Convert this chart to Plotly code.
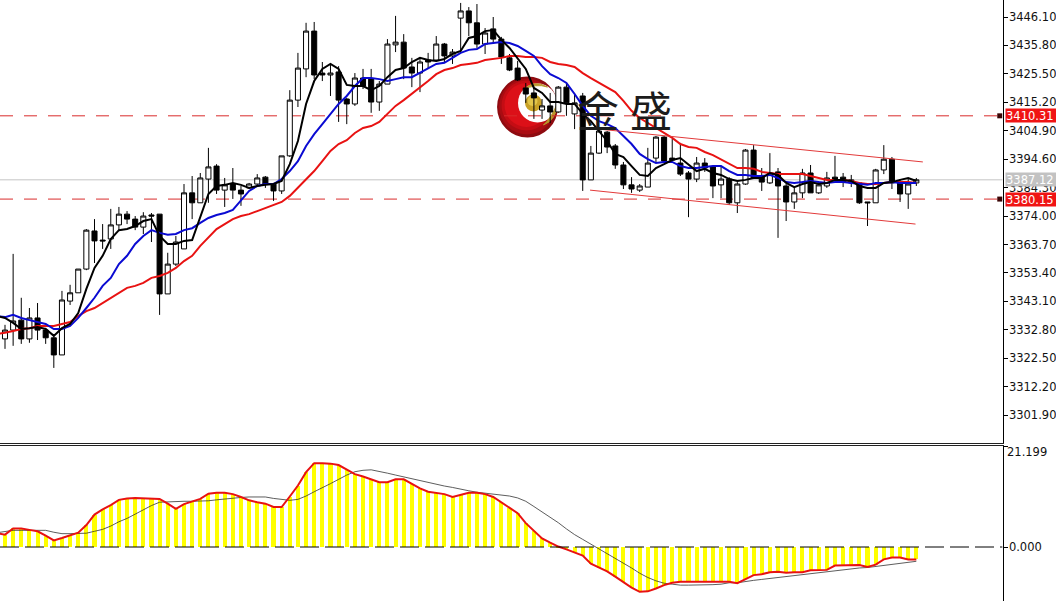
import plotly.graph_objects as go

# ---------- data ----------
opens = [3329.5,3332.7,3336.3,3329.5,3337.1,3332.7,3329.9,3323.7,3343.2,3346.2,
3354.8,3368.6,3365.3,3365.7,3370.8,3374.7,3372.9,3370.0,3374.4,3374.7,
3345.8,3356.6,3362.1,3382.4,3378.8,3387.4,3392.1,3383.4,3385.6,3383.4,
3384.2,3385.6,3388.1,3385.6,3383.1,3395.8,3416.0,3427.3,3441.0,3425.8,
3425.1,3426.2,3416.4,3414.6,3424.0,3423.6,3415.3,3421.8,3436.0,3437.0,
3428.0,3425.8,3430.5,3430.5,3436.3,3432.0,3445.7,3448.3,3444.0,3436.3,
3441.8,3438.1,3431.3,3427.6,3420.4,3418.6,3412.4,3413.9,3411.7,3420.7,
3411.0,3417.5,3387.1,3396.8,3404.4,3399.4,3392.5,3385.3,3383.4,3384.5,
3395.0,3402.6,3395.0,3393.2,3389.6,3387.4,3393.2,3391.8,3385.3,3387.4,
3378.8,3385.6,3397.9,3388.5,3386.0,3390.0,3384.9,3379.1,3382.4,3389.6,
3382.4,3384.9,3388.1,3388.1,3386.0,3386.0,3379.1,3378.8,3390.7,3394.6,
3386.0,3382.0,3386.0]
highs = [3334.6,3360.3,3344.4,3340.7,3342.5,3333.5,3331.3,3346.9,3349.1,3354.8,
3369.3,3372.9,3371.1,3376.6,3377.3,3375.8,3374.0,3375.4,3375.1,3374.7,
3360.7,3366.8,3385.6,3388.5,3389.6,3398.7,3392.8,3387.8,3391.4,3384.9,
3386.0,3389.2,3388.5,3386.0,3395.8,3419.6,3433.1,3444.0,3444.3,3429.8,
3428.7,3428.3,3416.8,3425.8,3427.3,3427.3,3422.9,3438.1,3446.5,3439.9,
3431.3,3431.3,3433.1,3439.2,3436.7,3434.5,3451.2,3449.7,3450.8,3442.1,
3446.1,3438.9,3432.7,3430.2,3422.2,3420.4,3416.4,3418.6,3421.1,3422.5,
3418.6,3418.6,3399.4,3405.5,3404.8,3400.1,3393.6,3388.1,3385.6,3398.7,
3403.0,3403.0,3401.9,3400.5,3390.3,3395.4,3395.0,3392.1,3391.8,3388.1,
3386.3,3398.3,3399.7,3391.4,3396.8,3391.4,3385.6,3384.9,3391.1,3392.5,
3386.7,3390.0,3395.8,3389.6,3388.9,3386.3,3379.1,3391.1,3399.7,3395.4,
3387.4,3387.4,3387.8]
lows = [3325.9,3327.0,3327.7,3328.1,3329.1,3327.7,3319.0,3323.7,3341.8,3346.2,
3354.4,3357.0,3362.1,3362.1,3368.6,3371.1,3368.9,3367.5,3364.6,3338.2,
3345.8,3355.9,3362.1,3372.9,3378.8,3378.8,3382.0,3377.3,3380.2,3377.7,
3383.8,3384.5,3384.2,3379.5,3382.0,3395.4,3413.5,3424.3,3423.6,3422.9,
3417.5,3408.1,3407.3,3413.9,3420.0,3411.4,3412.1,3421.8,3433.4,3423.6,
3420.7,3418.9,3427.3,3430.2,3429.5,3429.1,3433.8,3439.2,3434.9,3432.7,
3436.7,3429.1,3426.5,3422.9,3415.0,3409.2,3409.2,3407.7,3411.4,3410.3,
3405.5,3383.1,3387.1,3396.5,3396.8,3391.1,3383.8,3382.4,3382.7,3384.5,
3393.2,3393.2,3393.9,3388.5,3373.6,3386.3,3390.0,3380.5,3380.5,3378.0,
3375.1,3385.3,3387.4,3383.1,3385.6,3366.1,3372.2,3376.6,3380.5,3382.4,
3382.0,3384.2,3386.7,3384.5,3384.5,3378.4,3370.4,3378.8,3389.2,3383.8,
3379.1,3376.6,3384.9]
closes = [3332.7,3336.0,3329.5,3337.1,3332.7,3329.9,3323.7,3343.6,3346.2,3354.8,
3368.9,3365.0,3365.0,3370.8,3374.7,3372.9,3370.0,3374.0,3374.0,3345.8,
3356.6,3364.6,3382.4,3378.8,3387.8,3391.8,3383.4,3385.3,3383.4,3382.0,
3385.6,3387.8,3385.6,3383.1,3395.8,3416.0,3427.6,3441.0,3425.1,3425.1,
3425.8,3416.0,3414.6,3424.0,3421.1,3415.3,3421.8,3436.3,3437.0,3427.6,
3425.8,3429.8,3429.8,3436.3,3432.0,3433.4,3448.3,3444.0,3436.3,3440.3,
3438.1,3431.6,3426.9,3423.3,3418.2,3416.8,3413.9,3411.7,3420.7,3415.0,
3415.0,3387.1,3396.8,3404.8,3399.0,3392.5,3385.3,3383.8,3384.9,3393.2,
3402.6,3393.9,3394.3,3389.2,3387.4,3393.2,3391.4,3384.9,3387.4,3378.8,
3385.6,3397.9,3387.8,3386.3,3389.6,3384.9,3379.1,3382.4,3389.6,3382.4,
3385.3,3387.8,3387.4,3386.3,3387.1,3378.8,3378.8,3390.7,3394.6,3386.0,
3382.0,3385.6,3387.12]

# moving averages; each series starts one bar before the first visible candle
ma_black = [3337.8,
3337.1,3335.3,3333.1,3333.4,3333.8,3333.1,3330.6,3333.4,3334.9,3338.9,
3347.6,3355.2,3359.6,3365.7,3368.9,3369.3,3370.4,3372.2,3372.9,3366.8,
3363.9,3363.9,3365.0,3365.3,3373.3,3382.0,3384.9,3385.3,3386.0,3385.3,
3384.2,3384.9,3385.3,3385.6,3386.7,3392.8,3401.2,3414.6,3422.9,3427.3,
3429.1,3427.3,3421.5,3421.1,3421.1,3419.6,3421.1,3424.3,3426.9,3427.6,
3429.8,3431.3,3430.5,3430.2,3430.9,3432.7,3433.8,3438.5,3439.2,3441.0,
3441.4,3437.8,3434.9,3431.3,3427.3,3420.4,3418.6,3415.3,3415.3,3414.6,
3414.6,3411.0,3408.4,3404.8,3401.2,3396.5,3395.4,3392.1,3388.9,3388.5,
3391.4,3392.8,3394.3,3395.0,3392.8,3390.3,3391.1,3389.6,3388.9,3387.4,
3386.7,3387.1,3387.8,3387.8,3389.6,3388.9,3386.0,3384.5,3385.6,3386.3,
3385.6,3386.0,3387.1,3387.1,3386.7,3384.9,3384.2,3384.2,3386.0,3386.3,
3387.1,3387.8,3386.7]
ma_blue = [3337.8,
3337.4,3338.2,3337.1,3336.3,3335.6,3334.9,3333.1,3333.1,3334.2,3337.1,
3340.7,3344.4,3348.7,3351.6,3356.6,3359.6,3363.9,3366.8,3368.9,3367.9,
3367.2,3367.5,3368.9,3369.6,3371.5,3373.3,3374.4,3375.1,3376.2,3379.5,
3383.1,3384.9,3385.6,3385.6,3387.4,3390.3,3393.9,3399.4,3403.7,3407.3,
3411.0,3414.6,3417.5,3421.1,3424.0,3424.0,3423.6,3422.9,3423.6,3424.3,
3424.3,3425.8,3427.3,3429.1,3429.5,3431.3,3433.1,3434.2,3434.5,3436.3,
3436.7,3437.0,3436.7,3435.6,3433.8,3432.0,3428.3,3425.4,3424.0,3422.2,
3418.2,3413.9,3410.3,3408.4,3407.3,3405.9,3403.0,3400.1,3396.5,3394.6,
3393.2,3393.6,3393.6,3392.1,3391.4,3391.4,3391.8,3392.1,3392.1,3390.3,
3388.9,3388.9,3388.5,3388.5,3388.9,3387.8,3386.3,3386.0,3386.3,3386.7,
3386.3,3386.0,3386.3,3386.3,3386.0,3385.6,3385.3,3386.0,3386.0,3386.3,
3386.0,3386.0,3386.0]
ma_red = [3331.3,
3331.7,3332.4,3333.1,3333.4,3334.2,3334.2,3334.2,3334.9,3335.6,3337.8,
3339.6,3340.7,3342.5,3344.4,3346.2,3348.0,3348.7,3349.8,3351.6,3352.3,
3353.4,3355.2,3357.7,3359.6,3363.2,3366.1,3369.3,3371.1,3372.9,3374.0,
3374.7,3375.8,3376.9,3378.0,3379.1,3381.3,3384.2,3387.4,3390.3,3393.9,
3397.6,3400.1,3401.5,3404.1,3405.9,3406.6,3408.1,3411.0,3413.9,3416.0,
3418.2,3420.4,3422.9,3425.4,3426.9,3427.6,3428.7,3429.1,3429.5,3430.5,
3430.9,3431.3,3432.0,3432.0,3431.6,3431.6,3431.3,3429.8,3429.1,3428.7,
3428.0,3425.8,3424.0,3422.2,3420.4,3418.9,3415.7,3412.1,3409.5,3407.7,
3405.9,3404.1,3402.3,3400.1,3399.0,3398.7,3397.2,3396.1,3394.6,3393.2,
3391.4,3391.4,3391.1,3390.0,3389.6,3389.2,3389.2,3389.2,3389.2,3388.5,
3387.8,3387.1,3387.1,3387.1,3386.7,3386.0,3385.6,3385.6,3386.0,3386.3,
3386.3,3386.3,3386.0]

# oscillator panel, same one-bar lead
osc_hist = [2.9,
2.6,3.9,3.9,3.6,3.3,2.4,1.4,1.9,2.4,3.0,
4.6,6.8,7.9,8.8,9.9,10.2,10.3,10.2,10.2,10.1,
9.1,8.0,9.0,9.6,10.1,11.2,11.4,11.4,11.1,10.5,
9.8,9.4,9.1,8.4,8.4,10.6,12.9,15.7,17.6,17.6,
17.5,17.2,16.2,15.3,14.8,14.2,13.6,13.6,14.2,14.2,
13.2,12.3,11.6,11.4,11.1,10.5,10.9,11.4,11.4,11.1,
10.5,9.4,8.2,7.1,5.0,3.3,1.8,0.9,0.1,-0.5,
-1.1,-1.8,-3.5,-4.3,-5.1,-6.2,-7.4,-8.5,-9.4,-9.3,
-8.7,-8.0,-7.5,-7.3,-7.3,-7.3,-7.3,-7.3,-7.3,-7.3,
-7.6,-6.8,-5.9,-5.7,-5.3,-5.2,-5.4,-5.3,-5.3,-4.9,
-4.8,-4.8,-3.9,-3.9,-3.8,-3.8,-4.2,-3.7,-2.6,-2.2,
-2.2,-2.6,-2.6]
osc_signal = [3.0,
3.2,3.5,3.5,3.5,3.6,3.5,3.1,2.8,2.8,2.9,
2.9,3.3,3.7,4.4,5.3,6.0,6.9,7.9,8.7,9.4,
9.5,9.6,9.6,9.6,9.6,9.7,9.9,10.1,10.3,10.4,
10.5,10.5,10.5,10.2,10.0,9.8,10.0,10.7,11.6,12.4,
13.3,14.2,15.1,15.8,16.1,16.2,15.9,15.5,15.1,14.7,
14.3,13.9,13.5,13.2,12.8,12.5,12.1,11.8,11.5,11.3,
11.1,10.9,10.7,10.3,9.6,8.5,7.4,6.3,5.1,3.8,
2.6,1.6,0.6,-0.4,-1.3,-2.3,-3.3,-4.4,-5.5,-6.4,
-7.1,-7.6,-7.8,-8.0,-8.0,-8.0,-8.0,-7.9,-7.8,-7.5,
-7.5,-7.2,-7.0,-6.8,-6.6,-6.4,-6.2,-5.9,-5.7,-5.6,
-5.4,-5.2,-5.0,-4.8,-4.6,-4.4,-4.3,-4.1,-3.9,-3.7,
-3.5,-3.3,-3.0]

channel_upper_x = [73, 112.8]
channel_upper_y = [3405.5, 3393.6]
channel_lower_x = [71.9, 111.9]
channel_lower_y = [3383.4, 3371.1]

level_high = 3410.31
level_low = 3380.15
last_price = 3387.12

price_ticks = [3446.10,3435.80,3425.50,3415.20,3404.90,3394.60,3384.30,3374.00,
               3363.70,3353.40,3343.10,3332.80,3322.50,3312.20,3301.90]
price_tick_labels = ["3446.10","3435.80","3425.50","3415.20","3404.90","3394.60","3384.30","3374.00",
                     "3363.70","3353.40","3343.10","3332.80","3322.50","3312.20","3301.90"]
osc_ticks = [21.199, 0.0]
osc_tick_labels = ["", "0.000"]
watermark_chars = ["金", "盛"]

# ---------- layout helpers ----------
W, H = 1056, 601
def fx(px): return px / W
def fy(py): return 1 - py / H

FONT = "DejaVu Sans"
x_candle = list(range(len(opens)))
x_lines = [i - 1 for i in range(len(ma_black))]
XRANGE = [-0.614, 122.6]

fig = go.Figure()
fig.add_trace(go.Candlestick(
    x=x_candle, open=opens, high=highs, low=lows, close=closes,
    increasing=dict(line=dict(color="#000000", width=1), fillcolor="#ffffff"),
    decreasing=dict(line=dict(color="#000000", width=1), fillcolor="#000000"),
    whiskerwidth=0, hoverinfo="skip", showlegend=False))
for ys, col in ((ma_red, "#e81212"), (ma_blue, "#0a0ad2"), (ma_black, "#000000")):
    fig.add_trace(go.Scatter(x=x_lines, y=ys, mode="lines",
                             line=dict(color=col, width=2), hoverinfo="skip", showlegend=False))
for xs, ys in ((channel_upper_x, channel_upper_y), (channel_lower_x, channel_lower_y)):
    fig.add_trace(go.Scatter(x=xs, y=ys, mode="lines",
                             line=dict(color="#e23a3a", width=1), hoverinfo="skip", showlegend=False))
fig.add_trace(go.Scatter(x=[122.25, 122.25], y=[level_high, level_low], mode="markers",
                         marker=dict(symbol="square", size=5, color="#3a0505"),
                         cliponaxis=False, hoverinfo="skip", showlegend=False))

fig.add_trace(go.Bar(x=x_lines, y=osc_hist, width=0.5, marker=dict(color="#ffff00", line=dict(width=0)),
                     xaxis="x2", yaxis="y2", hoverinfo="skip", showlegend=False))
fig.add_trace(go.Scatter(x=x_lines, y=osc_signal, mode="lines", line=dict(color="#333333", width=0.8),
                         xaxis="x2", yaxis="y2", hoverinfo="skip", showlegend=False))
fig.add_trace(go.Scatter(x=x_lines, y=osc_hist, mode="lines", line=dict(color="#e81212", width=2),
                         xaxis="x2", yaxis="y2", hoverinfo="skip", showlegend=False))

shapes = []
# horizontal levels
shapes.append(dict(type="line", xref="x", yref="y", x0=XRANGE[0], x1=XRANGE[1], y0=last_price, y1=last_price,
                   line=dict(color="#c4c4c4", width=1), layer="below"))
for lv in (level_high, level_low):
    shapes.append(dict(type="line", xref="x", yref="y", x0=XRANGE[0], x1=XRANGE[1], y0=lv, y1=lv,
                       line=dict(color="#d92b2b", width=1, dash="13px,11px"), layer="below"))
shapes.append(dict(type="line", xref="x2", yref="y2", x0=XRANGE[0], x1=XRANGE[1], y0=0, y1=0,
                   line=dict(color="#000000", width=1, dash="19px,6px"), layer="above"))

# logo (decoration)
LDX = 1.5
def circle(cx, cy, r, col):
    return dict(type="circle", xref="paper", yref="paper", x0=fx(cx + LDX - r), x1=fx(cx + LDX + r),
                y0=fy(cy + r), y1=fy(cy - r), fillcolor=col, line=dict(width=0), layer="below")
shapes.append(circle(527, 107, 30.5, "#8e0b10"))
shapes.append(circle(526.5, 106.5, 28, "#aa0c12"))
shapes.append(circle(526, 105.5, 25, "#c40d14"))
shapes.append(circle(526, 105, 22, "#dc1018"))
shapes.append(circle(537, 103, 19.5, "#ffffff"))
shapes.append(circle(533, 103, 8.5, "#c9a227"))
shapes.append(circle(532, 101, 5, "#e3c64a"))
def p(px, py): return f"{fx(px + LDX):.5f},{fy(py):.5f}"
gold1 = "M" + p(523, 90) + " Q" + p(533, 79) + " " + p(547, 87) + " Q" + p(535, 83) + " " + p(523, 90) + " Z"
gold2 = "M" + p(543, 125) + " Q" + p(556, 120) + " " + p(557, 103) + " Q" + p(551, 118) + " " + p(543, 125) + " Z"
for g in (gold1, gold2):
    shapes.append(dict(type="path", xref="paper", yref="paper", path=g, fillcolor="#b9972a",
                       line=dict(color="#b9972a", width=1), layer="below"))

def price_box(y, text, bg):
    return dict(xref="paper", yref="y", x=fx(1007), y=y, xanchor="left", yanchor="middle",
                text=text, showarrow=False, bgcolor=bg, width=50, height=13, align="left",
                borderpad=0, font=dict(family=FONT, size=11.5, color="#ffffff"))

annotations = [
    price_box(last_price, "3387.12", "#c2c2c2"),
    price_box(level_high, "3410.31", "#f01414"),
    price_box(level_low, "3380.15", "#f01414"),
    dict(xref="paper", yref="paper", x=fx(1007), y=fy(452), xanchor="left", yanchor="middle",
         text="21.199", showarrow=False, font=dict(family=FONT, size=11.5, color="#111111")),
    dict(xref="paper", yref="paper", x=fx(599), y=fy(108), xanchor="center", yanchor="middle",
         text=watermark_chars[0], showarrow=False,
         font=dict(family="Noto Sans CJK SC", size=42, color="#1c1c1c")),
    dict(xref="paper", yref="paper", x=fx(652.5), y=fy(108), xanchor="center", yanchor="middle",
         text=watermark_chars[1], showarrow=False,
         font=dict(family="Noto Sans CJK SC", size=42, color="#1c1c1c")),
]

axis_x = dict(range=XRANGE, showgrid=False, zeroline=False, showticklabels=False, ticks="",
              showline=True, linecolor="#222222", linewidth=1, mirror=False, fixedrange=True)
fig.update_layout(
    width=W, height=H, margin=dict(l=0, r=0, t=0, b=0), autosize=False,
    paper_bgcolor="#ffffff", plot_bgcolor="#ffffff", showlegend=False,
    bargap=0, barmode="overlay", boxgap=0.15, boxgroupgap=0.27,
    xaxis=dict(axis_x, domain=[0, 1004.5 / W], anchor="y", rangeslider=dict(visible=False)),
    xaxis2=dict(axis_x, domain=[0, 1004.5 / W], anchor="y2", side="top"),
    yaxis=dict(domain=[(H - 443) / H, 1], range=[3291.8, 3452.26], side="right", anchor="x",
               tickmode="array", tickvals=price_ticks, ticktext=price_tick_labels,
               ticks="outside", ticklen=4, tickcolor="#000000", tickwidth=1, ticklabelstandoff=-1,
               showgrid=False, zeroline=False, showline=True, linecolor="#000000", linewidth=1,
               tickfont=dict(family=FONT, size=11.5, color="#111111")),
    yaxis2=dict(domain=[0, 155 / H], range=[-11.33, 21.199], side="right", anchor="x2",
                tickmode="array", tickvals=osc_ticks, ticktext=osc_tick_labels,
                ticks="outside", ticklen=4, tickcolor="#000000", tickwidth=1, ticklabelstandoff=-1,
                showgrid=False, zeroline=False, showline=True, linecolor="#000000", linewidth=1,
                tickfont=dict(family=FONT, size=11.5, color="#111111")),
    shapes=shapes, annotations=annotations,
)

fig.write_html("out.html", config={"displayModeBar": False},
               post_script="document.body.style.margin='0';document.body.style.overflow='hidden';")
